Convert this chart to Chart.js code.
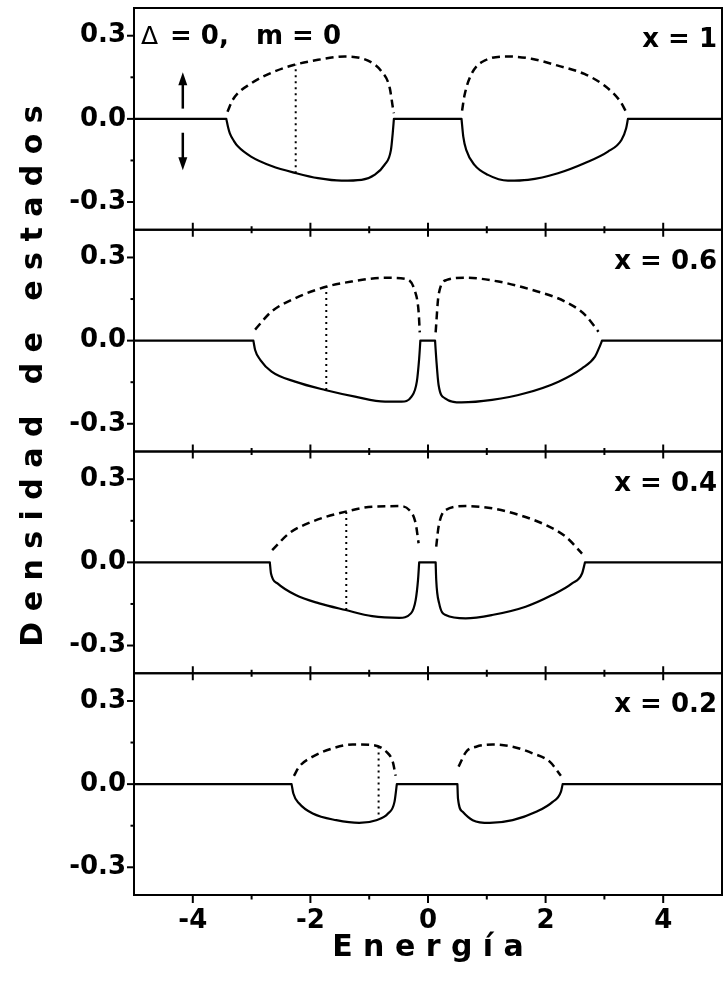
<!DOCTYPE html>
<html>
<head>
<meta charset="utf-8">
<title>Densidad de estados</title>
<script src="https://cdn.jsdelivr.net/npm/chart.js@4.4.1/dist/chart.umd.min.js"></script>
<style>
  html, body { margin: 0; padding: 0; background: #fff; }
  #wrap { width: 723px; height: 992px; }
</style>
</head>
<body>
<div id="wrap"><canvas id="dos"></canvas></div>
<script>
// concentration of each panel, top to bottom
var concentrations = ['1', '0.6', '0.4', '0.2'];

var xTicks = [-4, -2, 0, 2, 4];
var xMinorTicks = [-3, -1, 1, 3];
var yTicks = [-0.3, 0, 0.3];
var yMinorTicks = [-0.15, 0.15];

// spin down (solid), energy / density
var eDown1 = [-5, -3.43, -3.40, -3.37, -3.30, -3.23, -3.01, -2.66, -2.24, -1.87, -1.47, -1.13, -0.91, -0.74, -0.63, -0.60, -0.58,
  0.57, 0.60, 0.65, 0.79, 1.02, 1.36, 1.70, 2.21, 2.66, 3.06, 3.29, 3.37, 3.40, 5];
var dosDown1 = [0, 0, -0.030, -0.052, -0.080, -0.100, -0.136, -0.170, -0.196, -0.214, -0.223, -0.220, -0.202, -0.166, -0.112, -0.052, 0,
  0, -0.064, -0.112, -0.166, -0.202, -0.223, -0.220, -0.196, -0.160, -0.118, -0.076, -0.034, 0, 0];

var eDown2 = [-5, -2.97, -2.94, -2.85, -2.66, -2.26, -1.75, -1.24, -0.73, -0.45, -0.28, -0.19, -0.15, -0.13,
  0.12, 0.14, 0.18, 0.29, 0.57, 1.09, 1.65, 2.22, 2.62, 2.84, 2.93, 2.96, 5];
var dosDown2 = [0, 0, -0.034, -0.070, -0.112, -0.148, -0.178, -0.202, -0.220, -0.220, -0.202, -0.148, -0.064, 0,
  0, -0.064, -0.160, -0.208, -0.223, -0.214, -0.190, -0.148, -0.100, -0.058, -0.016, 0, 0];

var eDown3 = [-5, -2.69, -2.67, -2.56, -2.25, -1.85, -1.40, -0.95, -0.49, -0.29, -0.21, -0.17, -0.15,
  0.13, 0.14, 0.19, 0.30, 0.64, 1.09, 1.66, 2.11, 2.45, 2.62, 2.67, 5];
var dosDown3 = [0, 0, -0.040, -0.076, -0.118, -0.148, -0.172, -0.194, -0.200, -0.184, -0.136, -0.064, 0,
  0, -0.064, -0.148, -0.190, -0.202, -0.190, -0.160, -0.118, -0.076, -0.040, 0, 0];

var eDown4 = [-5, -2.32, -2.29, -2.19, -1.96, -1.56, -1.17, -0.88, -0.68, -0.57, -0.53,
  0.50, 0.51, 0.59, 0.76, 1.05, 1.44, 1.84, 2.12, 2.26, 2.29, 5];
var dosDown4 = [0, 0, -0.034, -0.070, -0.106, -0.130, -0.140, -0.130, -0.106, -0.064, 0,
  0, -0.052, -0.100, -0.130, -0.140, -0.130, -0.100, -0.064, -0.028, 0, 0];

// spin up (dashed); null splits the two bands
var eUp1 = [-3.41, -3.32, -3.00, -2.61, -2.27, -1.87, -1.42, -1.02, -0.79, -0.65, -0.60, -0.58, 0,
  0.58, 0.62, 0.74, 0.96, 1.36, 1.76, 2.21, 2.66, 3.00, 3.26, 3.37];
var dosUp1 = [0.026, 0.069, 0.129, 0.171, 0.195, 0.213, 0.225, 0.210, 0.171, 0.111, 0.044, 0.020, null,
  0.030, 0.084, 0.162, 0.210, 0.225, 0.217, 0.192, 0.162, 0.120, 0.066, 0.026];

var eUp2 = [-2.94, -2.66, -2.26, -1.72, -1.30, -0.73, -0.39, -0.22, -0.16, -0.14, 0,
  0.13, 0.18, 0.32, 0.63, 1.20, 1.77, 2.33, 2.67, 2.90];
var dosUp2 = [0.040, 0.105, 0.153, 0.195, 0.213, 0.227, 0.223, 0.177, 0.105, 0.030, null,
  0.030, 0.165, 0.219, 0.227, 0.213, 0.183, 0.141, 0.093, 0.032];

var eUp3 = [-2.65, -2.36, -1.97, -1.40, -0.95, -0.49, -0.32, -0.21, -0.16, 0,
  0.14, 0.18, 0.30, 0.64, 1.09, 1.55, 2.00, 2.34, 2.62];
var dosUp3 = [0.044, 0.105, 0.147, 0.183, 0.201, 0.203, 0.189, 0.141, 0.069, null,
  0.057, 0.129, 0.189, 0.203, 0.195, 0.171, 0.135, 0.093, 0.032];

var eUp4 = [-2.28, -2.19, -1.96, -1.62, -1.28, -0.94, -0.71, -0.60, -0.55, 0,
  0.52, 0.65, 0.82, 1.10, 1.44, 1.78, 2.07, 2.26];
var dosUp4 = [0.030, 0.063, 0.099, 0.129, 0.143, 0.141, 0.117, 0.081, 0.030, null,
  0.063, 0.117, 0.135, 0.143, 0.135, 0.111, 0.081, 0.030];

// Fermi level of each panel and the ends of its dotted line
var fermiE = [-2.25, -1.73, -1.39, -0.84];
var fermiLow = [-0.196, -0.178, -0.172, -0.110];
var fermiHigh = [0.195, 0.195, 0.183, 0.135];

var downE = [eDown1, eDown2, eDown3, eDown4];
var downDos = [dosDown1, dosDown2, dosDown3, dosDown4];
var upE = [eUp1, eUp2, eUp3, eUp4];
var upDos = [dosUp1, dosUp2, dosUp3, dosUp4];

var FONT = '"DejaVu Sans", sans-serif';
var panelIds = ['y1', 'y2', 'y3', 'y4'];

function points(xs, ys){
  return xs.map(function(x, i){ return {x: x, y: ys[i]}; });
}

// same as points(), but the flat zero stretches are cut off from the bands
// so the spline leaves the axis with a sharp edge
function bandPoints(xs, ys){
  var out = [];
  xs.forEach(function(x, i){
    var prev = ys[i - 1], next = ys[i + 1];
    out.push({x: x, y: ys[i]});
    var edge = ys[i] === 0 && prev !== undefined && next !== undefined &&
      ((prev === 0 && next !== 0) || (prev !== 0 && next === 0));
    if (edge){
      out.push({x: x, y: null});
      out.push({x: x, y: 0});
    }
  });
  return out;
}

var datasets = [];
panelIds.forEach(function(id, i){
  datasets.push({
    data: bandPoints(downE[i], downDos[i]),
    yAxisID: id,
    borderColor: '#000',
    borderWidth: 2.2,
    borderCapStyle: 'round',
    cubicInterpolationMode: 'monotone'
  });
  datasets.push({
    data: points(upE[i], upDos[i]),
    yAxisID: id,
    borderColor: '#000',
    borderWidth: 2.5,
    borderDash: [8, 5],
    cubicInterpolationMode: 'monotone'
  });
  datasets.push({
    data: points([fermiE[i], fermiE[i]], [fermiLow[i], fermiHigh[i]]),
    yAxisID: id,
    borderColor: '#000',
    borderWidth: 2,
    borderDash: [2, 4]
  });
});

function fixedTicks(values){
  return function(scale){
    scale.ticks = values.map(function(v){ return {value: v}; });
  };
}

var scales = {
  x: {
    type: 'linear',
    min: -5,
    max: 5,
    afterBuildTicks: fixedTicks(xTicks),
    afterFit: function(s){
      s.height = 97;
      s.paddingLeft = 0;
      s.paddingRight = 0;
    },
    grid: {display: false, drawTicks: false},
    border: {display: false},
    ticks: {
      color: '#000',
      padding: 11,
      maxRotation: 0,
      autoSkip: false,
      font: {family: FONT, size: 26, weight: 'bold'},
      callback: function(v){ return String(v); }
    },
    title: {
      display: true,
      text: 'E n e r g í a',
      color: '#000',
      font: {family: FONT, size: 30, weight: 'bold'},
      padding: {top: 0, bottom: 26}
    }
  }
};

panelIds.forEach(function(id, i){
  scales[id] = {
    type: 'linear',
    position: 'left',
    stack: 'dos',
    stackWeight: 1,
    weight: panelIds.length - i,
    min: -0.4,
    max: 0.4,
    afterBuildTicks: fixedTicks(yTicks),
    afterFit: function(s){
      s.width = 134;
      s.paddingTop = 0;
      s.paddingBottom = 0;
    },
    grid: {display: false, drawTicks: false},
    border: {display: false},
    ticks: {
      color: '#000',
      padding: 8,
      font: {family: FONT, size: 26, weight: 'bold'},
      callback: function(v){ return (Math.abs(v) < 1e-9 ? 0 : v).toFixed(1); }
    }
  };
});

function line(ctx, x1, y1, x2, y2){
  ctx.beginPath();
  ctx.moveTo(x1, y1);
  ctx.lineTo(x2, y2);
  ctx.stroke();
}

// box around every panel, with ticks on the shared edges
var panelFrames = {
  id: 'panelFrames',
  afterDatasetsDraw: function(chart){
    var ctx = chart.ctx, area = chart.chartArea, xs = chart.scales.x;
    ctx.save();
    ctx.strokeStyle = '#000';
    ctx.lineWidth = 2;
    panelIds.forEach(function(id, i){
      var ys = chart.scales[id];
      var last = i === panelIds.length - 1;
      ctx.strokeRect(area.left, ys.top, area.right - area.left, ys.bottom - ys.top);

      yTicks.concat(yMinorTicks).forEach(function(v){
        var len = yTicks.indexOf(v) >= 0 ? 7 : 3.5;
        var py = ys.getPixelForValue(v);
        line(ctx, area.left - len, py, area.left, py);
      });

      xTicks.concat(xMinorTicks).forEach(function(v){
        var len = xTicks.indexOf(v) >= 0 ? 7 : 3.5;
        var px = xs.getPixelForValue(v);
        line(ctx, px, ys.bottom - (last ? 0 : len), px, ys.bottom + (last ? len + 1 : len));
      });
    });
    ctx.restore();
  }
};

function arrow(ctx, x, yFrom, yTo){
  var dir = yTo < yFrom ? -1 : 1;
  ctx.lineWidth = 2.5;
  line(ctx, x, yFrom, x, yTo - dir * 10);
  ctx.beginPath();
  ctx.moveTo(x, yTo);
  ctx.lineTo(x - 4.5, yTo - dir * 13);
  ctx.lineTo(x + 4.5, yTo - dir * 13);
  ctx.closePath();
  ctx.fill();
}

// panel labels, spin arrows and the vertical title
var panelNotes = {
  id: 'panelNotes',
  afterDraw: function(chart){
    var ctx = chart.ctx, area = chart.chartArea, xs = chart.scales.x;
    var y1 = chart.scales[panelIds[0]];
    ctx.save();
    ctx.fillStyle = '#000';
    ctx.strokeStyle = '#000';
    ctx.textBaseline = 'alphabetic';

    ctx.font = 'bold 26px ' + FONT;
    ctx.textAlign = 'right';
    panelIds.forEach(function(id, i){
      ctx.fillText('x = ' + concentrations[i], area.right - 5, chart.scales[id].top + 39);
    });

    ctx.textAlign = 'left';
    ctx.font = '25px ' + FONT;
    ctx.fillText('\u0394', area.left + 7, y1.top + 36);
    ctx.font = 'bold 26px ' + FONT;
    ctx.fillText('= 0,   m = 0', area.left + 36, y1.top + 36);

    var ax = xs.getPixelForValue(-4.17);
    arrow(ctx, ax, y1.getPixelForValue(0.037), y1.getPixelForValue(0.168));
    arrow(ctx, ax, y1.getPixelForValue(-0.05), y1.getPixelForValue(-0.185));

    ctx.translate(42, 376);
    ctx.rotate(-Math.PI / 2);
    ctx.textAlign = 'center';
    ctx.font = 'bold 30px ' + FONT;
    ctx.fillText('D e n s i d a d   d e   e s t a d o s', 0, 0);
    ctx.restore();
  }
};

new Chart(document.getElementById('dos'), {
  type: 'line',
  data: {datasets: datasets},
  options: {
    responsive: true,
    maintainAspectRatio: false,
    animation: false,
    layout: {padding: {top: 8, right: 1, left: 0, bottom: 0}},
    elements: {point: {radius: 0}},
    plugins: {legend: {display: false}, tooltip: {enabled: false}},
    scales: scales
  },
  plugins: [panelFrames, panelNotes]
});
</script>
</body>
</html>
